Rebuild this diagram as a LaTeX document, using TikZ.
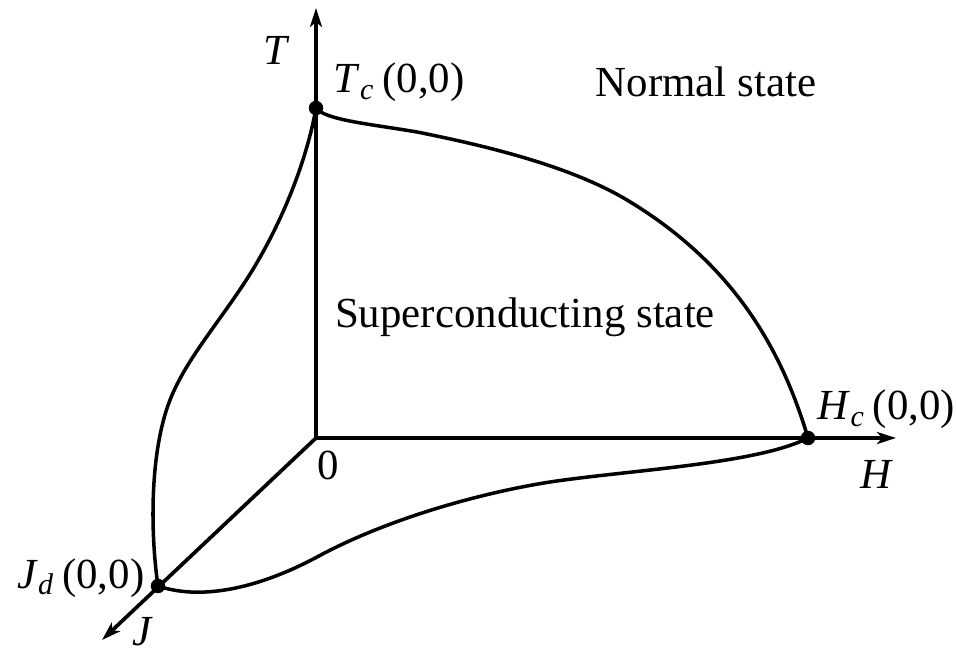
\documentclass[tikz,border=0pt]{standalone}
\usepackage{fontspec}
\setmainfont{Liberation Serif}
\usetikzlibrary{arrows.meta}

\newcommand{\critpt}[2]{\textit{#1}\textsubscript{\textit{#2}}\,(0,0)}

\begin{document}
\begin{tikzpicture}[
    font=\fontsize{12.2}{14}\selectfont,
    >={Stealth[length=1.9mm, width=1.2mm, inset=0.5mm]},
    axis/.style={->, line width=1.35pt},
    jaxis/.style={->, line width=1.05pt},
    boundary/.style={line width=1pt},
    critdot/.style={circle, fill=black, inner sep=0pt, minimum size=1.45mm},
    lbl/.style={inner sep=0pt}
]
\useasboundingbox (-3.16,-2.15) rectangle (6.40,4.38);

% Origin, axis ends and critical points
\coordinate (orig) at (0,0);
\coordinate (ttip) at (0,4.30);
\coordinate (htip) at (5.80,0);
\coordinate (jtip) at (-2.14,-2.02);
\coordinate (tc) at (0,3.30);
\coordinate (hc) at (4.92,0);
\coordinate (jd) at (-1.58,-1.48);

% Axes
\draw[axis] (orig) -- (ttip);
\draw[axis] (orig) -- (htip);
\draw[jaxis] (orig) -- (jtip);

% Critical surface: T-H boundary
\draw[boundary] (tc) .. controls (0.09,3.18) and (0.54,3.14) .. (1.01,3.06)
    .. controls (1.71,2.92) and (2.54,2.72) .. (3.11,2.38)
    .. controls (4.16,1.75) and (4.65,0.91) .. (hc);

% T-J boundary
\draw[boundary] (tc) .. controls (-0.11,2.68) and (-0.41,2.01) .. (-0.73,1.53)
    .. controls (-1.03,1.08) and (-1.31,0.76) .. (-1.46,0.38)
    .. controls (-1.66,-0.13) and (-1.66,-0.93) .. (jd);

% J-H boundary
\draw[boundary] (jd) .. controls (-1.11,-1.64) and (-0.51,-1.47) .. (0.01,-1.19)
    .. controls (0.71,-0.81) and (1.64,-0.55) .. (2.34,-0.44)
    .. controls (3.14,-0.32) and (4.41,-0.26) .. (hc);

% Dots
\node[critdot] (tcdot) at (tc) {};
\node[critdot] (hcdot) at (hc) {};
\node[critdot] (jddot) at (jd) {};

% Labels
\node[lbl] (tlab) at (-0.39,3.88) {\textit{T}};
\node[lbl] (hlab) at (5.61,-0.36) {\textit{H}};
\node[lbl] (jlab) at (-1.73,-1.94) {\textit{J}};
\node[lbl] (olab) at (0.12,-0.27) {0};
\node[lbl, anchor=base west] (tclab) at (0.17,3.45) {\critpt{T}{c}};
\node[lbl, anchor=base west] (hclab) at (5.01,0.18) {\critpt{H}{c}};
\node[lbl, anchor=base east] (jdlab) at (-1.71,-1.50) {\critpt{J}{d}};
\node[lbl, anchor=base] (normal) at (3.90,3.41) {Normal state};
\node[lbl, anchor=base] (super) at (2.09,1.10) {Superconducting state};

\end{tikzpicture}
\end{document}
